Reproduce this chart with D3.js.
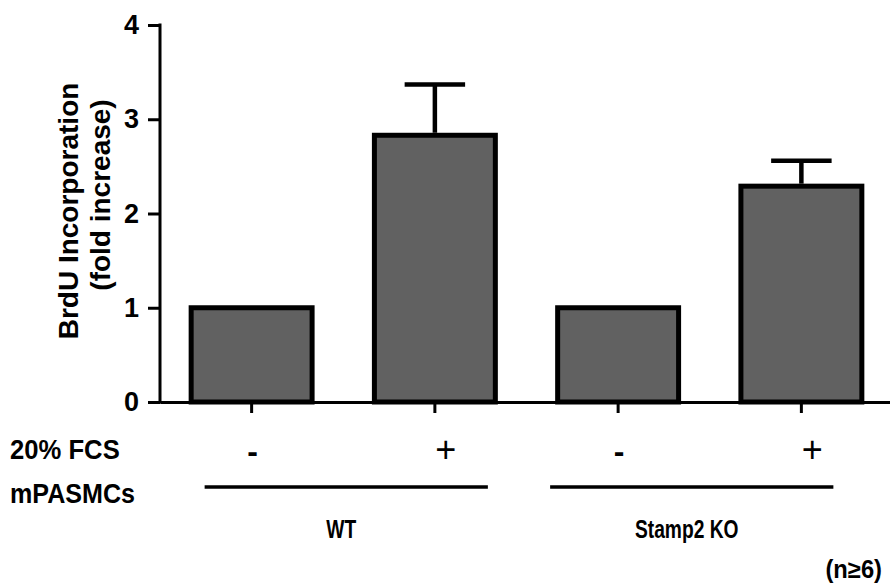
<!DOCTYPE html>
<html>
<head>
<meta charset="utf-8">
<script src="https://cdn.jsdelivr.net/npm/d3@7"></script>
<style>
  html, body { margin: 0; padding: 0; background: #fff; }
  svg { display: block; font-family: "Liberation Sans", Arial, sans-serif; font-weight: bold; }
</style>
</head>
<body>
<svg id="chart" width="890" height="584"></svg>
<script>
// BrdU incorporation (fold increase) in mouse PASMCs, with / without 20% FCS
const conditions = ["WT -", "WT +", "KO -", "KO +"];
const fcsLabels = ["-", "+", "-", "+"];
const meanValues = [1.0, 2.83, 1.0, 2.29];
const errorValues = [0, 0.54, 0, 0.27];
const yTicks = [0, 1, 2, 3, 4];
const groupNames = ["WT", "Stamp2 KO"];
const groupMembers = [["WT -", "WT +"], ["KO -", "KO +"]];

const svg = d3.select("#chart");
const margin = { left: 160, right: -3, top: 25, bottom: 182 };
const W = 890, H = 584;

const x = d3.scaleBand()
  .domain(conditions)
  .range([margin.left, W - margin.right])
  .paddingInner(0.34)
  .paddingOuter(0.17);

const y = d3.scaleLinear()
  .domain([0, 4])
  .range([H - margin.bottom, margin.top]);

// narrow, tall bold lettering used for the labels under the axis
function label(parent, tx, ty, str, size, sx, anchor) {
  return parent.append("text")
    .attr("transform", `translate(${tx},${ty}) scale(${sx},1)`)
    .attr("text-anchor", anchor || "start")
    .attr("font-size", size)
    .attr("fill", "#000")
    .text(str);
}

// bars
svg.append("g")
  .selectAll("rect")
  .data(conditions)
  .join("rect")
  .attr("x", d => x(d))
  .attr("width", x.bandwidth())
  .attr("y", (d, i) => y(meanValues[i]))
  .attr("height", (d, i) => y(0) - y(meanValues[i]))
  .attr("fill", "#616161")
  .attr("stroke", "#000")
  .attr("stroke-width", 5);

// upward error bars
const eb = svg.append("g").attr("stroke", "#000").attr("stroke-width", 4.5);
conditions.forEach((c, i) => {
  if (!errorValues[i]) return;
  const cx = x(c) + x.bandwidth() / 2;
  const top = y(meanValues[i] + errorValues[i]);
  eb.append("line").attr("x1", cx).attr("x2", cx)
    .attr("y1", y(meanValues[i]) - 2.5).attr("y2", top);
  eb.append("line").attr("x1", cx - x.bandwidth() / 4).attr("x2", cx + x.bandwidth() / 4)
    .attr("y1", top).attr("y2", top);
});

// y axis
const yAxis = svg.append("g")
  .attr("transform", `translate(${margin.left},0)`)
  .call(d3.axisLeft(y).tickValues(yTicks).tickFormat(d3.format("d")).tickSize(12).tickSizeOuter(0).tickPadding(9));
yAxis.select(".domain").attr("stroke-width", 3).attr("d", `M0,${y(0) + 1.5}V${y(4) - 1.5}`);
yAxis.selectAll(".tick line").attr("stroke-width", 3);
yAxis.selectAll(".tick text")
  .attr("font-size", 27).attr("font-weight", "bold")
  .attr("font-family", "Liberation Sans, Arial, sans-serif").attr("fill", "#000");

// x axis (baseline with ticks below each bar)
const xAxis = svg.append("g")
  .attr("transform", `translate(0,${y(0)})`)
  .call(d3.axisBottom(x).tickSize(11).tickSizeOuter(0).tickFormat(""));
xAxis.select(".domain").attr("stroke-width", 3);
xAxis.selectAll(".tick line").attr("stroke-width", 3);

// y axis title
const titleG = svg.append("g").attr("font-size", 28).attr("fill", "#000");
titleG.append("text")
  .attr("transform", `translate(78,211) rotate(-90)`)
  .attr("text-anchor", "middle")
  .text("BrdU Incorporation");
titleG.append("text")
  .attr("transform", `translate(110,195) rotate(-90)`)
  .attr("text-anchor", "middle")
  .text("(fold increase)");

// row labels under the axis
const rows = svg.append("g");
label(rows, 10, 459, "20% FCS", 27, 0.95);
label(rows, 10, 503, "mPASMCs", 27, 0.93);

// treatment signs under each bar
const signOffset = { "-": 1, "+": 11 };
conditions.forEach((c, i) => {
  const s = fcsLabels[i];
  label(rows, x(c) + x.bandwidth() / 2 + signOffset[s], 462, s, s === "+" ? 36 : 32, 1, "middle")
    .attr("font-weight", s === "+" ? "normal" : "bold");
});

// group brackets and names
const bracketShift = [[-47, 53], [-68, 32]];
groupNames.forEach((name, gi) => {
  const m = groupMembers[gi];
  const x0 = x(m[0]) + x.bandwidth() / 2 + bracketShift[gi][0];
  const x1 = x(m[1]) + x.bandwidth() / 2 + bracketShift[gi][1];
  svg.append("line")
    .attr("x1", x0).attr("x2", x1)
    .attr("y1", 487).attr("y2", 487)
    .attr("stroke", "#000").attr("stroke-width", 3.5);
  label(svg, (x0 + x1) / 2 - 5, 538, name, 26, 0.74, "middle");
});

label(svg, 882, 578, "(n\u22656)", 25, 0.95, "end");
</script>
</body>
</html>
